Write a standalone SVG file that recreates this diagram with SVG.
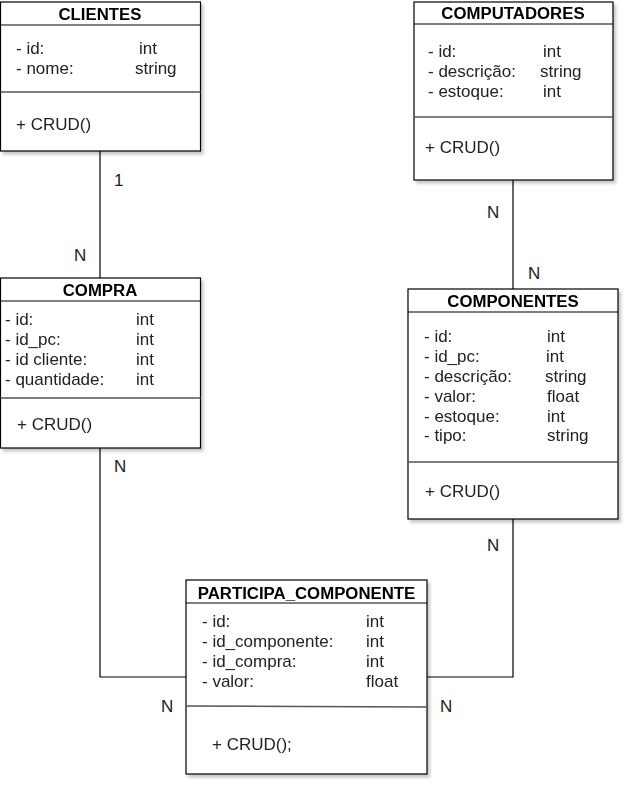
<svg xmlns="http://www.w3.org/2000/svg" width="631" height="787" viewBox="0 0 631 787">
<defs>
<filter id="sh" x="-10%" y="-10%" width="125%" height="125%">
<feDropShadow dx="2.5" dy="3" stdDeviation="1.8" flood-color="#000" flood-opacity="0.22"/>
</filter>
</defs>
<style>
.box{fill:#fff;stroke:#000;stroke-width:1.2}
.hl{stroke:#000;stroke-width:1.2}
.sep{stroke:#555;stroke-width:1.5}
text{font-family:"Liberation Sans",Arial,sans-serif;font-size:17px;fill:#222}
.t{font-weight:bold;text-anchor:middle;fill:#000;font-size:16.8px}
.lbl{fill:#222}
.c{fill:none;stroke:#000;stroke-width:1.2}
</style>
<rect width="631" height="787" fill="#fff"/>
<g id="connectors">
<path class="c" d="M100 151V278"/>
<path class="c" d="M513 180V289"/>
<path class="c" d="M100 448V677H186"/>
<path class="c" d="M513 519V677H427"/>
<text class="lbl" x="114" y="186">1</text>
<text class="lbl" x="74" y="261">N</text>
<text class="lbl" x="487" y="218">N</text>
<text class="lbl" x="528" y="279">N</text>
<text class="lbl" x="114" y="472">N</text>
<text class="lbl" x="487" y="551">N</text>
<text class="lbl" x="161" y="712">N</text>
<text class="lbl" x="440" y="712">N</text>
</g>
<g id="clientes" filter="url(#sh)">
<rect class="box" x="0.5" y="2" width="200" height="149"/>
<line class="hl" x1="0.5" y1="25" x2="200.5" y2="25"/>
<line class="sep" x1="0.5" y1="92" x2="200.5" y2="92"/>
<text class="t" x="100" y="20">CLIENTES</text>
<text x="16" y="54">- id:</text><text x="139" y="54">int</text>
<text x="16" y="74">- nome:</text><text x="135" y="74">string</text>
<text x="16" y="130">+ CRUD()</text>
</g>
<g id="computadores" filter="url(#sh)">
<rect class="box" x="414" y="2" width="199" height="178"/>
<line class="hl" x1="414" y1="24" x2="613" y2="24"/>
<line class="sep" x1="414" y1="117" x2="613" y2="117"/>
<text class="t" x="513" y="19">COMPUTADORES</text>
<text x="428" y="57">- id:</text><text x="543" y="57">int</text>
<text x="428" y="77">- descrição:</text><text x="540" y="77">string</text>
<text x="428" y="97">- estoque:</text><text x="543" y="97">int</text>
<text x="425" y="153">+ CRUD()</text>
</g>
<g id="compra" filter="url(#sh)">
<rect class="box" x="0.5" y="278" width="200" height="170"/>
<line class="hl" x1="0.5" y1="301" x2="200.5" y2="301"/>
<line class="sep" x1="0.5" y1="398" x2="200.5" y2="398"/>
<text class="t" x="100" y="296">COMPRA</text>
<text x="5" y="325">- id:</text><text x="136" y="325">int</text>
<text x="5" y="345">- id_pc:</text><text x="136" y="345">int</text>
<text x="5" y="365">- id cliente:</text><text x="136" y="365">int</text>
<text x="5" y="385">- quantidade:</text><text x="136" y="385">int</text>
<text x="17" y="430">+ CRUD()</text>
</g>
<g id="componentes" filter="url(#sh)">
<rect class="box" x="408" y="289" width="210" height="230"/>
<line class="hl" x1="408" y1="312" x2="618" y2="312"/>
<line class="sep" x1="408" y1="462" x2="618" y2="462"/>
<text class="t" x="513" y="307">COMPONENTES</text>
<text x="424" y="342">- id:</text><text x="547" y="342">int</text>
<text x="424" y="362">- id_pc:</text><text x="546" y="362">int</text>
<text x="424" y="382">- descrição:</text><text x="545" y="382">string</text>
<text x="424" y="402">- valor:</text><text x="547" y="402">float</text>
<text x="424" y="422">- estoque:</text><text x="547" y="422">int</text>
<text x="424" y="441">- tipo:</text><text x="547" y="441">string</text>
<text x="425" y="497">+ CRUD()</text>
</g>
<g id="participa_componente" filter="url(#sh)">
<rect class="box" x="186" y="580" width="241" height="194"/>
<line class="hl" x1="186" y1="603" x2="427" y2="603"/>
<line class="sep" x1="186" y1="706" x2="427" y2="707"/>
<text class="t" x="306.5" y="599">PARTICIPA_COMPONENTE</text>
<text x="202" y="627">- id:</text><text x="366" y="627">int</text>
<text x="202" y="647">- id_componente:</text><text x="366" y="647">int</text>
<text x="202" y="667">- id_compra:</text><text x="366" y="667">int</text>
<text x="202" y="687">- valor:</text><text x="366" y="687">float</text>
<text x="212" y="750">+ CRUD();</text>
</g>
</svg>
